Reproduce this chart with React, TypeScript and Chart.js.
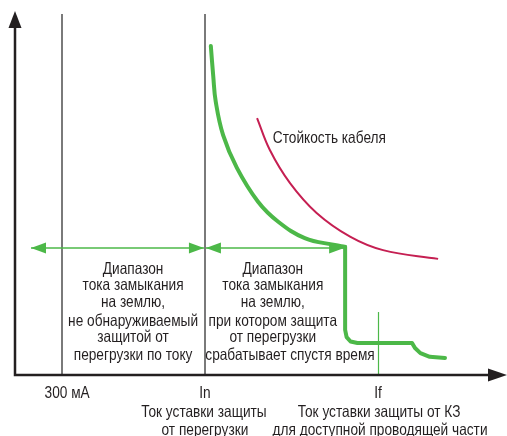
import React, { useEffect, useRef } from "react";
import { Chart, registerables } from "chart.js";

Chart.register(...registerables);

// Schematic units: x (current) 0..100, y (time) 0..100
const greenCurve = [
  [39.8, 90.4], [40.3, 82.0], [40.8, 75.1], [42.3, 65.9], [45.1, 56.9],
  [49.4, 47.6], [53.5, 42.1], [58.9, 37.6], [65.0, 35.7], [67.1, 35.2],
];
const greenStep = [
  [67.1, 35.2], [67.1, 12.4], [67.4, 10.4], [68.2, 9.2], [69.6, 8.8],
  [80.7, 8.8], [81.3, 7.4], [82.4, 6.0], [84.3, 5.0], [87.4, 4.7],
];
const redCurve = [
  [49.2, 70.6], [51.8, 61.8], [55.9, 52.7], [61.3, 44.5],
  [68.1, 38.0], [74.8, 34.3], [86.0, 31.9],
];
const grayLinesX = [9.55, 38.6];
const grayTopY = 99.2;
const ifLineX = 73.8;
const ifLineTopY = 17.3;
const arrowY = 34.9;
const arrowRanges = [[3.05, 38.6], [38.6, 67.1]];

const block1Lines = [
  "Диапазон", "тока замыкания", "на землю,", "не обнаруживаемый",
  "защитой от", "перегрузки по току",
];
const block2Lines = [
  "Диапазон", "тока замыкания", "на землю,", "при котором защита",
  "от перегрузки", "срабатывает спустя время",
];
const blockLineY = [29.1, 24.5, 19.8, 14.8, 10.2, 5.5];
const block1X = 24.0;
const block2X = [52.4, 52.4, 52.4, 52.4, 52.4, 55.9];

const axisLabels = [
  { text: "300 мА", x: 10.6, y: -5.2 },
  { text: "In", x: 38.6, y: -5.2 },
  { text: "Ток уставки защиты", x: 38.4, y: -10.4 },
  { text: "от перегрузки", x: 38.6, y: -15.1 },
  { text: "If", x: 73.8, y: -5.2 },
  { text: "Ток уставки защиты от КЗ", x: 74.0, y: -10.4 },
  { text: "для доступной проводящей части", x: 74.2, y: -15.1 },
];
const cableLabel = { text: "Стойкость кабеля", x: 52.4, y: 65.1 };

const GREEN = "#4cb848";
const RED = "#c51f52";
const GRAY = "#7a7a7a";
const BLACK = "#231f20";
const FONT = '16.5px "Liberation Sans", Arial, sans-serif';

const toPts = (arr: number[][]) => arr.map(([x, y]) => ({ x, y }));

const schemePlugin = {
  id: "scheme",
  beforeDatasetsDraw(chart: any) {
    const ctx = chart.ctx;
    const xs = chart.scales.x;
    const ys = chart.scales.y;
    ctx.save();
    ctx.strokeStyle = GRAY;
    ctx.lineWidth = 2;
    grayLinesX.forEach((v) => {
      const px = Math.round(xs.getPixelForValue(v));
      ctx.beginPath();
      ctx.moveTo(px, ys.getPixelForValue(0));
      ctx.lineTo(px, ys.getPixelForValue(grayTopY));
      ctx.stroke();
    });
    ctx.strokeStyle = GREEN;
    ctx.lineWidth = 1.2;
    const fx = Math.round(xs.getPixelForValue(ifLineX)) + 0.5;
    ctx.beginPath();
    ctx.moveTo(fx, ys.getPixelForValue(0));
    ctx.lineTo(fx, ys.getPixelForValue(ifLineTopY));
    ctx.stroke();
    ctx.restore();
  },
  afterDatasetsDraw(chart: any) {
    const ctx = chart.ctx;
    const xs = chart.scales.x;
    const ys = chart.scales.y;
    ctx.save();
    // green double arrows
    const ay = ys.getPixelForValue(arrowY);
    ctx.strokeStyle = GREEN;
    ctx.fillStyle = GREEN;
    ctx.lineWidth = 1.5;
    const head = (tipX: number, dir: number) => {
      ctx.beginPath();
      ctx.moveTo(tipX, ay);
      ctx.lineTo(tipX - dir * 15, ay - 5.5);
      ctx.lineTo(tipX - dir * 15, ay + 5.5);
      ctx.closePath();
      ctx.fill();
    };
    arrowRanges.forEach(([a, b]) => {
      const x1 = xs.getPixelForValue(a) + 1;
      const x2 = xs.getPixelForValue(b) - 1;
      ctx.beginPath();
      ctx.moveTo(x1, ay);
      ctx.lineTo(x2, ay);
      ctx.stroke();
      head(x1, -1);
      head(x2, 1);
    });

    // axes
    const ox = xs.getPixelForValue(0);
    const oy = ys.getPixelForValue(0);
    const yTop = ys.getPixelForValue(100);
    const xEnd = xs.getPixelForValue(100);
    ctx.strokeStyle = BLACK;
    ctx.fillStyle = BLACK;
    ctx.lineWidth = 2.5;
    ctx.beginPath();
    ctx.moveTo(ox, oy);
    ctx.lineTo(ox, yTop + 14);
    ctx.moveTo(ox - 1.25, oy);
    ctx.lineTo(xEnd - 16, oy);
    ctx.stroke();
    ctx.beginPath();
    ctx.moveTo(ox, yTop);
    ctx.lineTo(ox - 6.5, yTop + 17);
    ctx.lineTo(ox + 6.5, yTop + 17);
    ctx.closePath();
    ctx.fill();
    ctx.beginPath();
    ctx.moveTo(xEnd, oy);
    ctx.lineTo(xEnd - 19, oy - 6.5);
    ctx.lineTo(xEnd - 19, oy + 6.5);
    ctx.closePath();
    ctx.fill();

    // texts
    ctx.font = FONT;
    ctx.fillStyle = BLACK;
    ctx.textBaseline = "middle";
    const w = ctx.measureText("не обнаруживаемый").width;
    const k = Math.min(1, 130 / w);
    const drawT = (t: string, x: number, y: number, align: string) => {
      ctx.save();
      ctx.translate(xs.getPixelForValue(x), ys.getPixelForValue(y));
      ctx.scale(k, 1);
      ctx.textAlign = align;
      ctx.fillText(t, 0, 0);
      ctx.restore();
    };
    block1Lines.forEach((t, i) => drawT(t, block1X, blockLineY[i], "center"));
    block2Lines.forEach((t, i) => drawT(t, block2X[i], blockLineY[i], "center"));
    axisLabels.forEach((l) => drawT(l.text, l.x, l.y, "center"));
    drawT(cableLabel.text, cableLabel.x, cableLabel.y, "left");
    ctx.restore();
  },
};

export default function App() {
  const ref = useRef<HTMLCanvasElement | null>(null);
  useEffect(() => {
    document.body.style.margin = "0";
    const canvas = ref.current;
    if (!canvas) return;
    const chart = new Chart(canvas, {
      type: "scatter",
      data: {
        datasets: [
          {
            data: toPts(redCurve),
            showLine: true,
            borderColor: RED,
            borderWidth: 2,
            pointRadius: 0,
            tension: 0.4,
          },
          {
            data: toPts(greenCurve),
            showLine: true,
            borderColor: GREEN,
            borderWidth: 4,
            pointRadius: 0,
            tension: 0.4,
            borderCapStyle: "round",
          },
          {
            data: toPts(greenStep),
            showLine: true,
            borderColor: GREEN,
            borderWidth: 4,
            pointRadius: 0,
            tension: 0,
            borderCapStyle: "round",
            borderJoinStyle: "round",
          },
        ],
      },
      options: {
        animation: false,
        responsive: false,
        maintainAspectRatio: false,
        layout: { padding: { left: 15, right: 0, top: 11, bottom: 61 } },
        plugins: { legend: { display: false }, tooltip: { enabled: false } },
        scales: {
          x: { type: "linear", min: 0, max: 100, display: false },
          y: { type: "linear", min: 0, max: 100, display: false },
        },
      } as any,
      plugins: [schemePlugin],
    });
    return () => chart.destroy();
  }, []);
  return <canvas ref={ref} width={507} height={436} style={{ display: "block" }} />;
}
